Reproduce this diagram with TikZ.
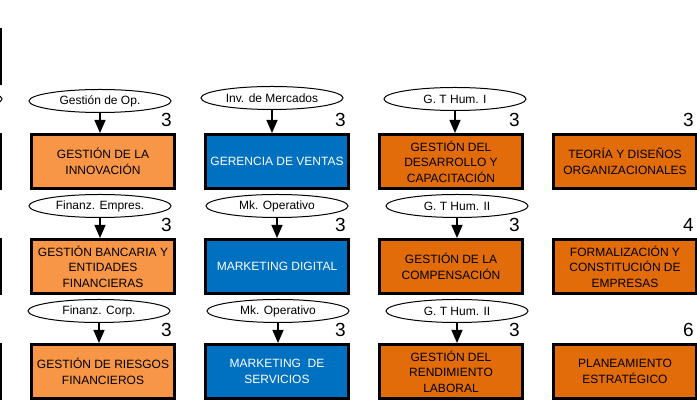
\documentclass[tikz,border=0pt]{standalone}
\usepackage{fontspec}
\setmainfont{Liberation Sans}
\usetikzlibrary{positioning,arrows.meta,shapes}
\definecolor{orangelight}{HTML}{F79646}
\definecolor{orangedark}{HTML}{E36C0A}
\definecolor{bluecourse}{HTML}{0070C0}

\begin{document}
\begin{tikzpicture}[
    box/.style={rectangle, draw, line width=3pt, minimum width=143pt, minimum height=54pt, inner sep=2pt, align=center, font=\fontsize{12}{15.5}\selectfont},
    lightbox/.style={box, fill=orangelight},
    darkbox/.style={box, fill=orangedark},
    bluebox/.style={box, fill=bluecourse, text=white},
    prereq/.style={ellipse, draw, line width=1pt, fill=white, minimum width=142pt, minimum height=23pt, inner sep=0pt, font=\fontsize{12}{13}\selectfont},
    arrow/.style={-{Triangle[length=13pt,width=11pt]}, line width=1.2pt},
    credits/.style={anchor=base east, inner sep=0pt, font=\fontsize{19}{19}\selectfont},
    node distance=48pt and 28pt
]
    \useasboundingbox (0,0) rectangle (697pt,406pt);
    \clip (0,0) rectangle (697pt,406pt);

    % courses
    \node[lightbox] (innov) at (103pt,244.5pt) {GESTIÓN DE LA\\INNOVACIÓN};
    \node[bluebox, right=of innov] (ventas) {GERENCIA DE VENTAS};
    \node[darkbox, right=of ventas] (desarrollo) {GESTIÓN DEL\\DESARROLLO Y\\CAPACITACIÓN};
    \node[darkbox, right=of desarrollo] (teoria) {TEORÍA Y DISEÑOS\\ORGANIZACIONALES};

    \node[lightbox, below=of innov] (bancaria) {GESTIÓN BANCARIA Y\\ENTIDADES\\FINANCIERAS};
    \node[bluebox, below=of ventas] (digital) {MARKETING DIGITAL};
    \node[darkbox, below=of desarrollo] (compensacion) {GESTIÓN DE LA\\COMPENSACIÓN};
    \node[darkbox, below=of teoria] (formalizacion) {FORMALIZACIÓN Y\\CONSTITUCIÓN DE\\EMPRESAS};

    \node[lightbox, below=of bancaria] (riesgos) {GESTIÓN DE RIESGOS\\FINANCIEROS};
    \node[bluebox, below=of digital] (servicios) {MARKETING\ \ DE\\SERVICIOS};
    \node[darkbox, below=of compensacion] (rendimiento) {GESTIÓN DEL\\RENDIMIENTO\\LABORAL};
    \node[darkbox, below=of formalizacion] (planeamiento) {PLANEAMIENTO\\ESTRATÉGICO};

    % previous column, cut by the frame
    \node[lightbox, left=of innov] (prevOne) {};
    \node[lightbox, above=of prevOne] (prevTop) {};
    \node[lightbox, below=of prevOne] (prevTwo) {};
    \node[lightbox, below=of prevTwo] (prevThree) {};
    \node[prereq, above=22pt of prevOne, xshift=2pt] (prevReq) {};

    % prerequisites
    \node[prereq, above=20pt of innov, xshift=-3pt] (opGestion) {Gestión de Op.};
    \node[prereq, above=23pt of ventas, xshift=-5pt] (invMercados) {Inv. de Mercados};
    \node[prereq, above=22pt of desarrollo, xshift=4pt] (gthumI) {G. T Hum. I};

    \node[prereq, above=20pt of bancaria, xshift=-3pt] (finEmpres) {Finanz. Empres.};
    \node[prereq, above=20pt of digital] (mkOpA) {Mk. Operativo};
    \node[prereq, above=20pt of compensacion, xshift=6pt] (gthumIIa) {G. T Hum. II};

    \node[prereq, above=20pt of riesgos, xshift=-4pt] (finCorp) {Finanz. Corp.};
    \node[prereq, above=20pt of servicios, xshift=1pt] (mkOpB) {Mk. Operativo};
    \node[prereq, above=20pt of rendimiento, xshift=6pt] (gthumIIb) {G. T Hum. II};

    \draw[arrow] (opGestion) -- (opGestion |- innov.north);
    \draw[arrow] (invMercados) -- (invMercados |- ventas.north);
    \draw[arrow] (gthumI) -- (gthumI |- desarrollo.north);
    \draw[arrow] (finEmpres) -- (finEmpres |- bancaria.north);
    \draw[arrow] (mkOpA) -- (mkOpA |- digital.north);
    \draw[arrow] (gthumIIa) -- (gthumIIa |- compensacion.north);
    \draw[arrow] (finCorp) -- (finCorp |- riesgos.north);
    \draw[arrow] (mkOpB) -- (mkOpB |- servicios.north);
    \draw[arrow] (gthumIIb) -- (gthumIIb |- rendimiento.north);

    % credits
    \node[credits] (crInnov) at ([xshift=-4pt,yshift=6pt]innov.north east) {3};
    \node[credits] (crVentas) at ([xshift=-4pt,yshift=6pt]ventas.north east) {3};
    \node[credits] (crDesarrollo) at ([xshift=-4pt,yshift=6pt]desarrollo.north east) {3};
    \node[credits] (crTeoria) at ([xshift=-4pt,yshift=6pt]teoria.north east) {3};
    \node[credits] (crBancaria) at ([xshift=-4pt,yshift=6pt]bancaria.north east) {3};
    \node[credits] (crDigital) at ([xshift=-4pt,yshift=6pt]digital.north east) {3};
    \node[credits] (crCompensacion) at ([xshift=-4pt,yshift=6pt]compensacion.north east) {3};
    \node[credits] (crFormalizacion) at ([xshift=-4pt,yshift=6pt]formalizacion.north east) {4};
    \node[credits] (crRiesgos) at ([xshift=-4pt,yshift=6pt]riesgos.north east) {3};
    \node[credits] (crServicios) at ([xshift=-4pt,yshift=6pt]servicios.north east) {3};
    \node[credits] (crRendimiento) at ([xshift=-4pt,yshift=6pt]rendimiento.north east) {3};
    \node[credits] (crPlaneamiento) at ([xshift=-4pt,yshift=6pt]planeamiento.north east) {6};
\end{tikzpicture}
\end{document}
